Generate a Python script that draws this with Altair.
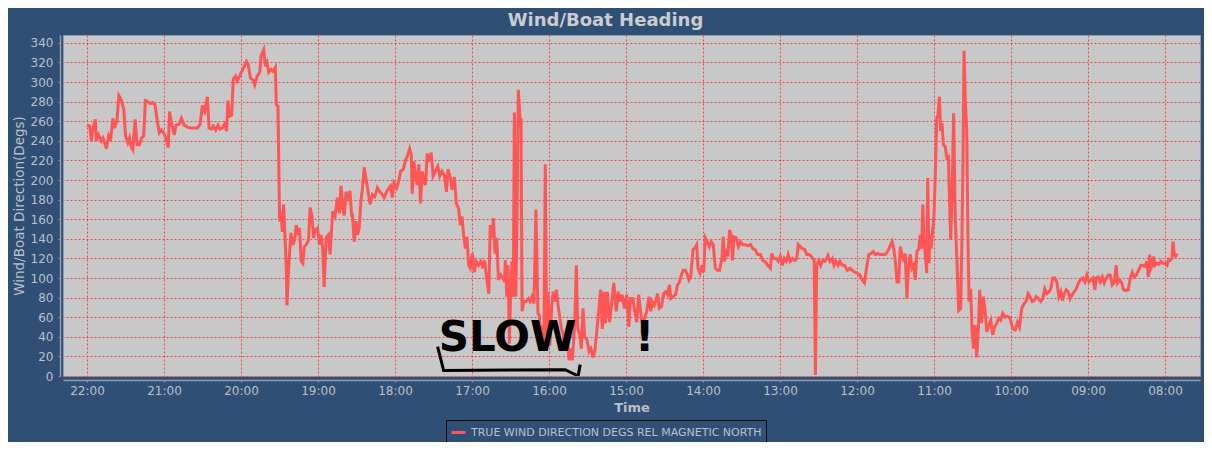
import altair as alt
import pandas as pd

# ---- data (minutes before 22:00, heading in degrees) ----
minutes_before_2200 = [
    0, 2.1, 3.4, 4.7, 6.5, 7.2, 9.0, 11.1, 12.4, 13.7, 15.2, 16.8, 18.3, 20.2, 21.4, 23.3, 24.8, 26.6, 28.7, 30.0,
    31.8, 33.1, 34.4, 35.7, 37.5, 39.0, 40.8, 42.6, 44.2, 45.5, 47.3, 49.4, 51.2, 53.0, 54.5, 56.3, 58.1, 59.7, 61.5, 63.3,
    64.3, 65.9, 68.0, 69.3, 71.8, 73.6, 75.7, 78.3, 80.9, 83.5, 86.0, 88.1, 89.9, 91.7, 93.8, 95.1, 96.9, 98.4, 100.3, 102.1,
    103.6, 105.4, 107.2, 108.8, 109.8, 111.1, 112.7, 114.0, 115.8, 117.1, 119.6, 122.2, 124.3, 125.6, 127.4, 129.5, 130.7, 132.6, 134.6, 135.7,
    137.7, 139.0, 140.3, 141.6, 143.4, 144.9, 146.8, 147.5, 148.8, 150.1, 151.2, 152.2, 153.2, 154.3, 155.3, 155.8, 157.4, 158.9, 160.5, 161.8,
    163.0, 164.3, 165.6, 166.9, 168.2, 169.3, 170.8, 172.6, 173.9, 175.2, 176.5, 177.8, 179.6, 181.1, 182.4, 183.7, 184.8, 186.3, 188.1, 189.4,
    191.5, 193.3, 195.1, 196.6, 197.9, 199.2, 200.5, 201.8, 203.6, 204.9, 206.2,
    206.9, 208.2, 209.5, 210.8, 212.1, 213.4, 214.7, 216.0, 217.3, 219.1, 220.6, 222.4, 224.2, 226.3, 228.1, 230.2, 231.5, 233.5, 235.3, 236.6,
    237.9, 239.2, 241.3, 243.1, 244.4, 246.5, 248.3, 249.6, 251.4, 252.7, 253.4, 254.7, 256.0, 257.3, 258.6, 259.9, 261.2, 262.5, 263.8, 265.1,
    266.9, 268.2, 269.7, 271.5, 273.3, 274.9, 276.7, 278.5, 280.1, 281.3, 283.2, 284.4, 286.3, 287.8, 289.6, 290.9, 292.2, 293.5, 294.8, 296.1,
    297.4, 298.7, 300.2, 301.8, 303.3, 305.1, 306.9, 308.5, 309.8, 311.6, 313.1, 314.2, 315.5, 316.7, 318.0, 319.3, 320.6, 322.4, 324.0, 325.3,
    326.0, 327.1, 328.1, 329.1, 330.2, 331.2, 332.2, 333.0, 334.1, 334.8, 336.1, 337.4, 338.2, 339.0, 340.5, 342.1, 343.9, 345.2, 346.7, 348.3,
    349.8, 351.4, 352.4, 353.7, 355.0, 356.0, 357.1, 358.1, 359.1, 360.7, 362.0, 363.3, 364.5, 365.8, 367.1, 368.4, 369.7, 371.0, 372.3, 374.1,
    375.7, 377.0, 378.2, 380.1, 381.3, 382.4, 383.9, 385.2, 386.5, 387.8, 389.6, 391.2, 392.7, 394.3, 395.8, 397.4, 398.9, 400.2, 401.5, 402.8,
    404.1, 405.4, 407.2, 409.0, 410.5, 412.4, 413.9, 415.5, 417.0, 418.8, 420.6, 422.2, 423.5, 425.3, 426.8, 428.4, 429.9,
    432.2, 434.3, 436.1, 437.9, 439.4, 440.5, 442.0, 443.3, 444.6, 445.9, 447.7, 449.3, 450.8, 452.4, 453.9, 454.9, 456.7, 458.6, 460.1, 461.4,
    462.7, 464.5, 466.3, 467.9, 469.1, 470.4, 472.2, 473.5, 475.1, 476.1, 477.7, 479.2, 480.5, 481.8, 483.4, 484.9, 486.5, 488.0, 489.6, 491.1,
    492.9, 494.7, 495.8, 496.8, 498.1, 499.4, 500.7, 502.0, 503.0, 504.0, 505.8, 507.6, 509.2, 511.0, 512.8, 514.9, 517.0, 518.8, 520.6, 522.6,
    524.7, 526.5, 528.3, 530.4, 532.5, 533.5, 535.0, 536.8, 538.7, 540.2, 541.8, 543.3, 544.9, 546.4, 548.0, 549.8, 551.6, 553.1, 554.2, 555.7,
    557.5, 559.3, 560.9, 562.7, 564.5, 566.6, 567.6, 568.6, 570.2, 571.7, 573.3, 574.8, 576.4, 577.4, 579.0, 580.8, 582.1, 583.6, 585.2, 586.7,
    588.5, 590.3, 592.4, 594.5, 596.3, 598.1, 600.2, 602.2, 604.0, 605.8, 607.4, 609.2, 611.0, 612.6, 614.4, 616.2, 618.2, 620.3, 622.1, 623.9,
    625.5, 627.3, 628.6, 629.9, 631.2, 632.5, 633.7, 635.0, 636.3, 637.6, 638.9, 640.2, 641.5, 642.8, 644.1, 645.4, 646.7, 648.2, 649.2, 650.3,
    651.3,
    652.2, 653.5, 654.3, 655.1, 656.1, 656.9, 657.7, 658.7, 660.0, 661.0, 662.1, 663.1, 664.2, 665.2, 666.2, 667.3, 668.8, 669.9, 671.2, 672.0,
    673.0, 674.0, 675.3, 676.6, 677.9, 679.2, 680.8, 681.8, 682.6, 683.4, 684.4, 685.5, 686.5, 687.3, 688.6, 689.6, 690.7, 692.0, 693.3, 694.6,
    695.6, 696.9, 698.5, 699.8, 701.1, 702.7, 704.2, 705.8, 707.3, 708.9, 710.5, 712.0, 713.6, 715.4, 717.2, 719.3, 721.4, 723.2, 725.0, 726.6,
    728.4, 730.2, 731.8, 733.3, 734.9, 736.5, 738.0, 739.6, 741.4, 743.2, 744.8, 746.3, 747.9, 749.5, 751.0, 752.6, 754.1, 755.7, 757.3, 758.8,
    760.1, 761.4, 763.0, 764.6, 766.1, 767.7, 769.2, 770.8, 772.6, 773.9, 776.0, 777.6, 779.1, 780.7, 782.2, 783.8, 785.4, 786.4, 788.0, 789.5,
    791.1, 792.6, 794.2, 795.8, 797.3, 798.9, 800.4, 802.0, 803.0, 804.6, 806.2, 807.7, 809.3, 811.4, 812.9, 814.5, 816.1, 817.6, 819.4, 821.2,
    822.8, 824.4, 825.9, 827.0, 828.0, 829.1, 830.1, 831.1, 832.2, 833.7, 835.3, 836.9, 838.4, 840.0, 841.6, 842.8, 844.1, 845.4, 846.2, 847.3,
    848.3, 849.3,
]

heading_degs = [
    256, 255, 240, 253, 262, 240, 246, 240, 243, 238, 232, 245, 240, 263, 253, 260, 286, 282, 272, 245,
    238, 243, 234, 231, 262, 236, 236, 243, 245, 281, 280, 278, 279, 277, 262, 248, 251, 248, 243, 233,
    270, 258, 246, 256, 257, 263, 256, 254, 253, 253, 253, 257, 276, 270, 285, 253, 252, 255, 251, 256,
    252, 253, 257, 250, 281, 265, 266, 303, 306, 301, 308, 315, 321, 318, 304, 302, 297, 306, 310, 327,
    333, 316, 320, 310, 313, 311, 315, 277, 275, 158, 168, 147, 175, 141, 110, 72, 117, 146, 134, 139,
    154, 147, 151, 117, 115, 132, 134, 139, 172, 164, 141, 149, 151, 134, 144, 130, 91, 141, 144, 124,
    168, 163, 182, 166, 194, 171, 164, 188, 182, 189, 164,
    164, 137, 158, 144, 151, 178, 192, 213, 202, 188, 175, 185, 183, 192, 188, 185, 182, 188, 192, 194,
    182, 197, 192, 200, 209, 211, 221, 224, 232, 226, 186, 219, 205, 195, 216, 176, 209, 199, 195, 227,
    219, 228, 204, 209, 214, 204, 209, 205, 188, 211, 202, 190, 203, 176, 171, 154, 163, 144, 130, 142,
    113, 110, 125, 106, 117, 113, 117, 110, 118, 98, 84, 154, 141, 161, 125, 141, 98, 103, 100, 96,
    118, 81, 113, 33, 89, 117, 81, 269, 81, 134, 292, 263, 262, 66, 76, 76, 79, 76, 81, 74,
    170, 64, 62, 35, 52, 26, 216, 42, 86, 31, 69, 86, 76, 88, 72, 60, 48, 43, 28, 42,
    16, 28, 16, 55, 113, 48, 42, 28, 69, 40, 37, 25, 28, 19, 26, 48, 69, 88, 48, 86,
    54, 86, 55, 76, 95, 66, 86, 76, 83, 69, 83, 50, 79, 79, 66, 55, 83,
    57, 58, 66, 81, 66, 76, 72, 77, 84, 69, 71, 84, 86, 83, 93, 79, 81, 83, 93, 95,
    101, 108, 108, 103, 98, 101, 129, 130, 134, 110, 105, 113, 106, 141, 137, 132, 137, 134, 110, 108,
    108, 120, 142, 117, 130, 122, 149, 144, 118, 142, 141, 132, 137, 134, 134, 133, 134, 130, 129, 124,
    124, 118, 117, 113, 110, 125, 120, 120, 117, 122, 113, 120, 117, 124, 117, 120, 118, 120, 134, 132,
    130, 129, 124, 124, 122, 118, 1, 113, 118, 113, 118, 117, 120, 123, 117, 120, 113, 117, 113, 117,
    113, 113, 108, 110, 108, 106, 105, 103, 98, 95, 110, 124, 125, 127, 124, 125, 124, 124, 124, 127,
    132, 137, 130, 117, 96, 96, 132, 124, 117, 125, 79, 112, 124, 110, 113, 98, 127, 130, 144, 130,
    175,
    137, 120, 105, 202, 115, 144, 130, 144, 164, 205, 263, 266, 285, 250, 258, 236, 234, 223, 224, 182,
    139, 182, 268, 158, 117, 67, 69, 144, 219, 332, 281, 250, 137, 76, 89, 48, 28, 52, 19, 48,
    88, 54, 81, 67, 45, 52, 57, 42, 50, 54, 59, 57, 64, 60, 61, 59, 48, 47, 55, 50,
    69, 74, 76, 84, 81, 76, 77, 81, 79, 76, 79, 89, 84, 86, 89, 100, 100, 96, 81, 86,
    77, 84, 88, 86, 79, 83, 86, 89, 95, 98, 100, 96, 103, 96, 98, 100, 88, 100, 101, 96,
    101, 95, 100, 103, 103, 93, 95, 113, 95, 98, 95, 88, 87, 88, 100, 106, 101, 103, 108, 113,
    113, 112, 117, 101, 124, 110, 113, 122, 113, 115, 114, 117, 115, 115, 113, 119, 118, 120, 137, 124,
    122, 125,
]

series_name = "TRUE WIND DIRECTION DEGS REL MAGNETIC NORTH"
x_tick_labels = ["22:00", "21:00", "20:00", "19:00", "18:00", "17:00", "16:00", "15:00",
                 "14:00", "13:00", "12:00", "11:00", "10:00", "09:00", "08:00"]
y_tick_values = list(range(0, 341, 20))

# hand-written annotation on the reference ("SLOW !" with a bracket under it)
NBSP = "\u00a0"
note_text = ["SLOW" + NBSP * 4 + "!"]
note_minutes = [358]
note_value = [26]
bracket_minutes = [273.2, 277.9, 372.6, 382.7, 384.3]
bracket_value = [30, 5.5, 6.5, 0, 11.6]

DAY = "2013-06-01"
base = pd.Timestamp(f"{DAY} 22:00:00")

df = pd.DataFrame({
    "time": base - pd.to_timedelta(minutes_before_2200, unit="m"),
    "heading": heading_degs,
    "series": series_name,
})
note_df = pd.DataFrame({
    "time": base - pd.to_timedelta(note_minutes, unit="m"),
    "heading": note_value,
    "label": note_text,
})
bracket_df = pd.DataFrame({
    "time": base - pd.to_timedelta(bracket_minutes, unit="m"),
    "heading": bracket_value,
    "order": list(range(len(bracket_minutes))),
})

tick_dt = [alt.DateTime(year=2013, month=6, date=1, hours=int(t[:2]), minutes=int(t[3:]))
           for t in x_tick_labels]

x_scale = alt.Scale(
    domain=[alt.DateTime(year=2013, month=6, date=1, hours=7, minutes=32, seconds=44),
            alt.DateTime(year=2013, month=6, date=1, hours=22, minutes=18, seconds=42)],
    reverse=True,
)
y_scale = alt.Scale(domain=[0, 348], nice=False, zero=True)

BG = "#304f75"
TXT = "#b9c0ca"
AXIS_LINE = "#8d9bb0"
GRID = "#e84a4a"

grid_style = dict(grid=True, gridColor=GRID, gridDash=[2, 2], gridWidth=1, gridOpacity=1)

x_enc = alt.X("time:T", scale=x_scale, title="Time",
              axis=alt.Axis(values=tick_dt, format="%H:%M", offset=4, labelOverlap=False, **grid_style))
y_enc = alt.Y("heading:Q", scale=y_scale, title="Wind/Boat Direction(Degs)",
              axis=alt.Axis(values=y_tick_values, offset=3, labelOverlap=False, **grid_style))

line = alt.Chart(df).mark_line(strokeWidth=3, clip=True).encode(
    x=x_enc,
    y=y_enc,
    color=alt.Color("series:N", scale=alt.Scale(range=["#ff5555"]),
                    legend=alt.Legend(title=None, orient="none", legendX=383, legendY=385,
                                      symbolType="stroke", symbolStrokeWidth=3, symbolSize=196,
                                      labelFontSize=11, labelColor=TXT, labelFont="DejaVu Sans",
                                      labelOffset=4, padding=4, strokeColor="#0a0a0a",
                                      labelLimit=400)),
)

bracket = alt.Chart(bracket_df).mark_line(color="#000000", strokeWidth=3, clip=True).encode(
    x=x_enc, y=y_enc, order="order:Q")

note = alt.Chart(note_df).mark_text(font="DejaVu Sans", fontWeight="bold", fontSize=42,
                                    color="#000000", align="center", baseline="alphabetic").encode(
    x=x_enc, y=y_enc, text="label:N")

chart = alt.layer(line, bracket, note).properties(
    width=1137,
    height=341,
    autosize=alt.AutoSizeParams(type="none"),
    padding={"left": 55, "top": 27, "right": 4, "bottom": 66},
    title=alt.Title("Wind/Boat Heading", fontSize=18, font="DejaVu Sans", fontWeight="bold",
                    color="#c9ccd1", anchor="middle", frame="group", dx=-26, offset=5),
).configure(
    background=BG,
).configure_view(
    fill="#c8c8c8", stroke="#8d9bb0", strokeWidth=1,
).configure_axis(
    labelFont="DejaVu Sans", labelFontSize=12, labelColor=TXT,
    titleFont="DejaVu Sans", titleColor=TXT,
    domainColor=AXIS_LINE, domainWidth=1.5,
    tickColor=AXIS_LINE, tickSize=2,
    **grid_style,
).configure_axisX(
    labelPadding=3, titleFontSize=13, titleFontWeight="bold", titlePadding=5, **grid_style,
).configure_axisY(
    labelPadding=5, titleFontSize=13.5, titleFontWeight="normal", titlePadding=4, **grid_style,
)

chart.save("out.html", embed_options={"renderer": "svg", "actions": False})
